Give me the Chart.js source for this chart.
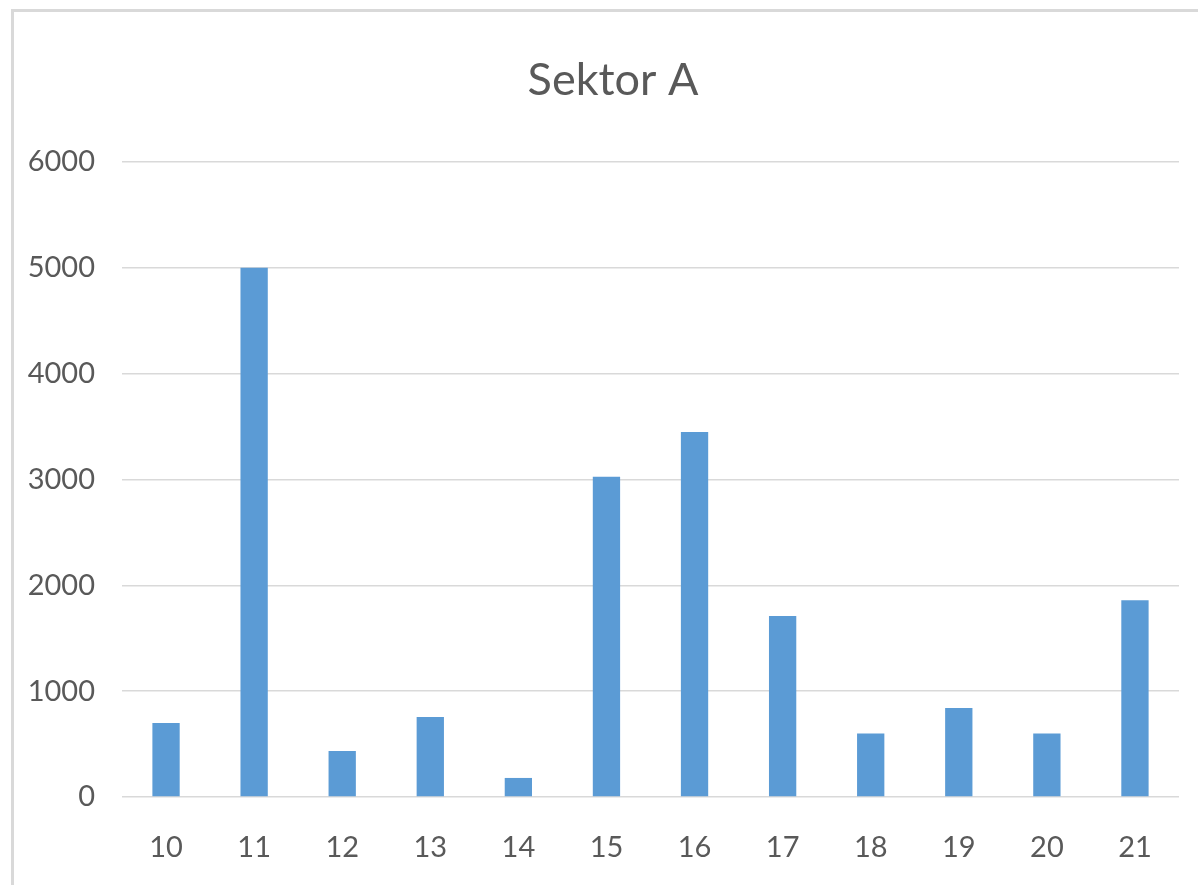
<!DOCTYPE html>
<html>
<head>
<meta charset="utf-8">
<script src="https://cdn.jsdelivr.net/npm/chart.js@4/dist/chart.umd.min.js"></script>
<style>
  html, body { margin: 0; padding: 0; background: #fff; }
  #frame { position: absolute; left: 11px; top: 9px; width: 1200px; height: 900px;
           border-left: 3px solid #d9d9d9; border-top: 3px solid #d9d9d9; }
  #wrap { position: absolute; left: 0; top: 0; width: 1198px; height: 885px; }
</style>
</head>
<body>
<div id="frame"></div>
<div id="wrap"><canvas id="c" width="1198" height="885"></canvas></div>
<script>
const title = "Sektor A";
const categories = ["10","11","12","13","14","15","16","17","18","19","20","21"];
const values = [700, 5000, 435, 755, 180, 3025, 3450, 1710, 600, 840, 600, 1860];
const yTicks = [0, 1000, 2000, 3000, 4000, 5000, 6000];

const textColor = "#595959";

const titlePlugin = {
  id: "fixedTitle",
  afterDraw(chart) {
    const ctx = chart.ctx;
    ctx.save();
    ctx.fillStyle = textColor;
    ctx.font = "normal 45px Lato";
    ctx.textAlign = "center";
    ctx.textBaseline = "middle";
    ctx.fillText(title, 613, 80);
    ctx.restore();
  }
};

new Chart(document.getElementById("c"), {
  type: "bar",
  data: {
    labels: categories,
    datasets: [{
      data: values,
      backgroundColor: "#5b9bd5",
      borderWidth: 0,
      categoryPercentage: 1,
      barPercentage: 0.31
    }]
  },
  plugins: [titlePlugin],
  options: {
    responsive: false,
    animation: false,
    layout: { padding: { left: 0, right: 19, top: 162, bottom: 0 } },
    plugins: {
      legend: { display: false },
      tooltip: { enabled: false },
      title: { display: false }
    },
    scales: {
      x: {
        grid: { display: false },
        border: { display: false },
        ticks: { color: textColor, font: { family: "Lato", size: 29 }, padding: 25, maxRotation: 0 },
        afterFit: s => { s.height = 88; }
      },
      y: {
        min: yTicks[0],
        max: yTicks[yTicks.length - 1],
        grid: { color: "#d9d9d9", lineWidth: 1.5, drawTicks: false },
        border: { display: false },
        afterBuildTicks: s => { s.ticks = yTicks.map(v => ({ value: v })); },
        ticks: { color: textColor, font: { family: "Lato", size: 29 }, padding: 27,
                 callback: v => String(v) },
        afterFit: s => { s.width = 122; }
      }
    }
  }
});
</script>
</body>
</html>
